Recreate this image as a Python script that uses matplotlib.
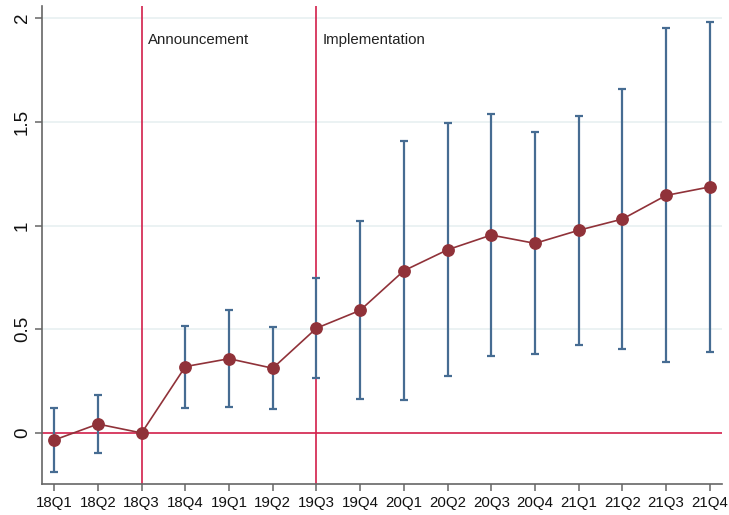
import matplotlib
matplotlib.use("Agg")
import matplotlib.pyplot as plt
import numpy as np

plt.rcParams['font.family'] = ['Liberation Sans', 'DejaVu Sans']

quarters = ["18Q1", "18Q2", "18Q3", "18Q4", "19Q1", "19Q2", "19Q3", "19Q4",
            "20Q1", "20Q2", "20Q3", "20Q4", "21Q1", "21Q2", "21Q3", "21Q4"]
coef = [-0.034, 0.043, 0.0, 0.320, 0.358, 0.312, 0.505, 0.591,
        0.782, 0.883, 0.954, 0.914, 0.977, 1.031, 1.145, 1.186]
ci_low = [-0.190, -0.095, 0.0, 0.119, 0.127, 0.114, 0.267, 0.162,
          0.157, 0.275, 0.371, 0.379, 0.426, 0.405, 0.342, 0.390]
ci_high = [0.122, 0.183, 0.0, 0.517, 0.591, 0.509, 0.745, 1.020,
           1.409, 1.495, 1.536, 1.451, 1.526, 1.658, 1.950, 1.982]
events = {"Announcement": "18Q3", "Implementation": "19Q3"}
yticks = [0, 0.5, 1, 1.5, 2]

x = np.arange(len(quarters))
coef = np.array(coef)
lo = np.array(ci_low)
hi = np.array(ci_high)

fig = plt.figure(figsize=(7.29, 5.15), dpi=100)
ax = fig.add_axes([0.0576, 0.0602, 0.9328, 0.9281])

red = "#d21f4a"
navy = "#466c92"
maroon = "#903239"

for yt in yticks[1:]:
    ax.axhline(yt, color="#e8f0f1", lw=1.2, zorder=0)

ax.axhline(0, color=red, lw=1.2, zorder=1)
for label, q in events.items():
    xi = quarters.index(q)
    ax.axvline(xi, color=red, lw=1.2, zorder=1)
    ax.text(xi + 0.14, 1.892, label, fontsize=10.8, color="#222222",
            ha="left", va="center")

has_ci = hi > lo
ax.errorbar(x[has_ci], coef[has_ci],
            yerr=[coef[has_ci] - lo[has_ci], hi[has_ci] - coef[has_ci]],
            fmt="none", ecolor=navy, elinewidth=1.6, capsize=3.2,
            capthick=1.6, zorder=2)
ax.plot(x, coef, color=maroon, lw=1.2, marker="o", markersize=8.2,
        markerfacecolor=maroon, markeredgecolor=maroon, zorder=3)

ax.set_xlim(-0.28, 15.28)
ax.set_ylim(-0.246, 2.058)
ax.set_xticks(x)
ax.set_xticklabels(quarters, fontsize=10.8)
ax.set_yticks(yticks)
ax.set_yticklabels(["0", "0.5", "1", "1.5", "2"], fontsize=13.5,
                   rotation=90, va="center")

for s in ["top", "right"]:
    ax.spines[s].set_visible(False)
for s in ["left", "bottom"]:
    ax.spines[s].set_color("#666666")
    ax.spines[s].set_linewidth(1.2)
ax.tick_params(axis="both", colors="#666666", length=5, width=1.1,
               labelcolor="#111111")
ax.tick_params(axis="y", pad=3)
ax.tick_params(axis="x", pad=4)

fig.savefig("out.png", dpi=100)
